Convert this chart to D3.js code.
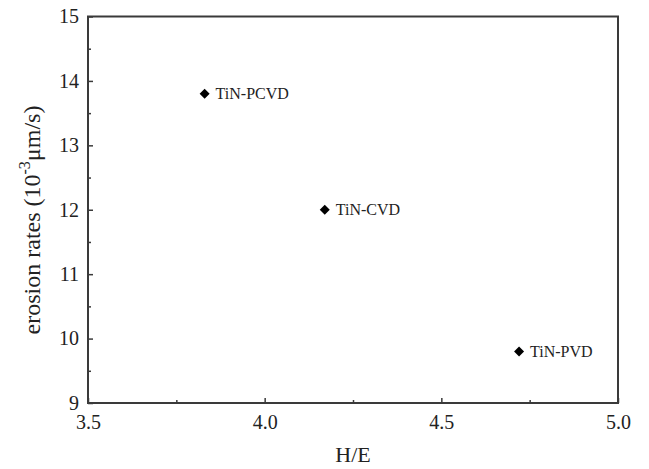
<!DOCTYPE html>
<html>
<head>
<meta charset="utf-8">
<script src="https://cdn.jsdelivr.net/npm/d3@7"></script>
<style>
body { margin: 0; background: #fff; }
text { font-family: "Liberation Serif", "Times New Roman", serif; fill: #222; }
</style>
</head>
<body>
<script>
var width = 649, height = 469;
var margin = {left: 88, right: 31, top: 16.5, bottom: 66};

var coatings = ["TiN-PCVD", "TiN-CVD", "TiN-PVD"];
var hOverE = [3.83, 4.17, 4.72];
var erosion = [13.8, 12.0, 9.8];
var xTicks = [3.5, 4.0, 4.5, 5.0];
var yTicks = [9, 10, 11, 12, 13, 14, 15];

var svg = d3.select("body").append("svg")
    .attr("width", width).attr("height", height);

var x = d3.scaleLinear().domain([3.5, 5.0]).range([margin.left, width - margin.right]);
var y = d3.scaleLinear().domain([9, 15]).range([height - margin.bottom, margin.top]);

var axisColor = "#3a3a3a";

// minor ticks
svg.append("g").attr("transform", "translate(0," + y(9) + ")")
    .call(d3.axisBottom(x).tickValues([3.75, 4.25, 4.75]).tickSize(-3).tickFormat(""))
    .call(function(g){ g.select(".domain").remove(); g.selectAll("line").attr("stroke", axisColor).attr("stroke-width", 1.5); });
svg.append("g").attr("transform", "translate(" + x(3.5) + ",0)")
    .call(d3.axisLeft(y).tickValues([9.5, 10.5, 11.5, 12.5, 13.5, 14.5]).tickSize(-3).tickFormat(""))
    .call(function(g){ g.select(".domain").remove(); g.selectAll("line").attr("stroke", axisColor).attr("stroke-width", 1.5); });

// major axes
var xAxis = svg.append("g").attr("transform", "translate(0," + y(9) + ")")
    .call(d3.axisBottom(x).tickValues(xTicks).tickSize(-5).tickPadding(12).tickFormat(d3.format(".1f")));
var yAxis = svg.append("g").attr("transform", "translate(" + x(3.5) + ",0)")
    .call(d3.axisLeft(y).tickValues(yTicks).tickSize(-5).tickPadding(9).tickFormat(d3.format("d")));

[xAxis, yAxis].forEach(function(g){
    g.select(".domain").remove();
    g.selectAll("line").attr("stroke", axisColor).attr("stroke-width", 1.5);
    g.selectAll("text").attr("font-size", 20).attr("font-family", "Liberation Serif").attr("fill", "#222");
});
xAxis.selectAll("text").attr("dy", "0.71em");

// frame
svg.append("rect")
    .attr("x", x(3.5)).attr("y", y(15))
    .attr("width", x(5.0) - x(3.5)).attr("height", y(9) - y(15))
    .attr("fill", "none").attr("stroke", axisColor).attr("stroke-width", 2);

// points
var data = coatings.map(function(c, i){ return {name: c, x: hOverE[i], y: erosion[i]}; });
var square = d3.symbol().type(d3.symbolSquare).size(50);
var pts = svg.append("g").selectAll("g").data(data).enter().append("g")
    .attr("transform", function(d){ return "translate(" + x(d.x) + "," + y(d.y) + ")"; });
pts.append("path").attr("d", square).attr("transform", "rotate(45)").attr("fill", "#000");
pts.append("text").attr("x", 11).attr("dy", "0.35em").attr("font-size", 16).text(function(d){ return d.name; });

// axis titles
svg.append("text").attr("x", (x(3.5) + x(5.0)) / 2).attr("y", 462)
    .attr("text-anchor", "middle").attr("font-size", 22).text("H/E");

var yt = svg.append("text").attr("transform", "translate(40,220) rotate(-90)")
    .attr("text-anchor", "middle").attr("font-size", 24);
yt.append("tspan").text("erosion rates (10");
yt.append("tspan").attr("font-size", 16).attr("dy", -10).text("-3");
yt.append("tspan").attr("dy", 10).text("\u03bcm/s)");
</script>
</body>
</html>
